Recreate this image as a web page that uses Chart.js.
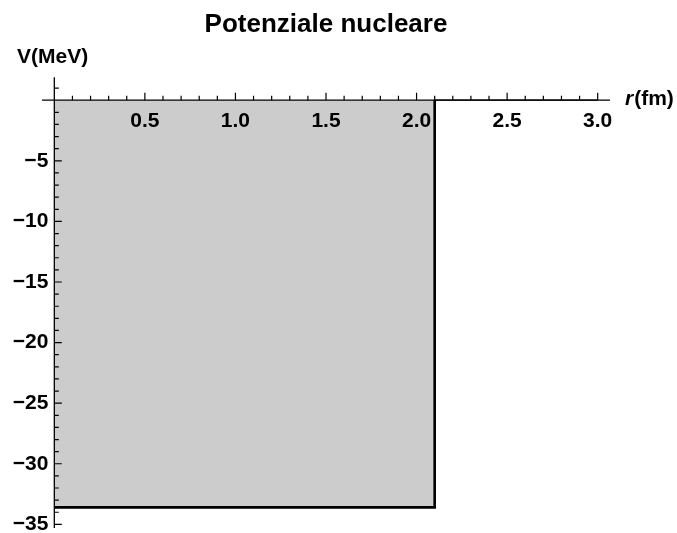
<!DOCTYPE html>
<html>
<head>
<meta charset="utf-8">
<script src="https://cdn.jsdelivr.net/npm/chart.js@4.4.0/dist/chart.umd.min.js"></script>
<style>
  body { margin: 0; background: #fff; }
</style>
</head>
<body>
<canvas id="myChart" width="677" height="533"></canvas>
<script>
// square well potential: r in fm, V in MeV
var radius = [0, 2.1, 2.1, 3.0];
var potential = [-33.6, -33.6, 0, 0];

var xTickStep = 0.5, xMinorStep = 0.1;
var yTickStep = 5, yMinorStep = 1;

var FONT = '"Liberation Sans", Arial, sans-serif';

function fmtX(v) { return v.toFixed(1); }
function fmtY(v) { return v < 0 ? '\u2212' + Math.abs(v) : String(v); }

// Mathematica-like axes crossing at the origin, ticks pointing inward
var axesPlugin = {
  id: 'mmaAxes',
  afterDatasetsDraw: function(chart) {
    var ctx = chart.ctx, xs = chart.scales.x, ys = chart.scales.y, area = chart.chartArea;
    var x0 = xs.getPixelForValue(0), y0 = ys.getPixelForValue(0);
    ctx.save();
    ctx.strokeStyle = '#000';
    ctx.lineWidth = 1.3;
    ctx.beginPath();
    ctx.moveTo(area.left, y0); ctx.lineTo(area.right, y0);
    ctx.moveTo(x0, area.top); ctx.lineTo(x0, area.bottom);
    ctx.stroke();

    ctx.lineWidth = 1.2;
    ctx.beginPath();
    // x minor ticks
    for (var n = 1; n * xMinorStep <= xs.max + 1e-9; n++) {
      if (n % Math.round(xTickStep / xMinorStep) === 0) continue;
      var px = xs.getPixelForValue(n * xMinorStep);
      ctx.moveTo(px, y0); ctx.lineTo(px, y0 - 4.5);
    }
    xs.ticks.forEach(function(t) {
      if (t.value === 0) return;
      var px = xs.getPixelForValue(t.value);
      ctx.moveTo(px, y0); ctx.lineTo(px, y0 - 7.5);
    });
    // y minor ticks
    for (var m = Math.ceil(ys.min); m <= ys.max; m += yMinorStep) {
      if (m % yTickStep === 0) continue;
      var py = ys.getPixelForValue(m);
      ctx.moveTo(x0, py); ctx.lineTo(x0 + 4.5, py);
    }
    ys.ticks.forEach(function(t) {
      if (t.value === 0) return;
      var py = ys.getPixelForValue(t.value);
      ctx.moveTo(x0, py); ctx.lineTo(x0 + 7.5, py);
    });
    ctx.stroke();

    // tick labels
    ctx.fillStyle = '#000';
    ctx.font = 'bold 21px ' + FONT;
    ctx.textBaseline = 'middle';
    ctx.textAlign = 'center';
    xs.ticks.forEach(function(t) {
      if (t.value === 0) return;
      ctx.fillText(fmtX(t.value), xs.getPixelForValue(t.value), y0 + 21);
    });
    ctx.textAlign = 'right';
    ys.ticks.forEach(function(t) {
      if (t.value === 0) return;
      ctx.fillText(fmtY(t.value), x0 - 6, ys.getPixelForValue(t.value));
    });

    // axis labels
    ctx.font = 'bold 21px ' + FONT;
    ctx.textAlign = 'left';
    ctx.fillText('V(MeV)', 17, 57);
    ctx.font = 'italic bold 21px ' + FONT;
    var rx = area.right + 15;
    ctx.fillText('r', rx, y0 - 1);
    var rw = ctx.measureText('r').width;
    ctx.font = 'bold 21px ' + FONT;
    ctx.fillText('(fm)', rx + rw + 1, y0 - 1);
    ctx.restore();
  }
};

var ctx = document.getElementById('myChart').getContext('2d');
var myChart = new Chart(ctx, {
  type: 'line',
  data: {
    datasets: [{
      data: radius.map(function(r, i) { return {x: r, y: potential[i]}; }),
      borderColor: '#000',
      borderWidth: 2.6,
      backgroundColor: '#cccccc',
      fill: 'origin',
      pointRadius: 0,
      tension: 0,
      segment: {
        // the stretch lying on the axis stays thin
        borderWidth: function(c) { return (c.p0.parsed.y === 0 && c.p1.parsed.y === 0) ? 1.3 : 2.6; }
      }
    }]
  },
  plugins: [axesPlugin],
  options: {
    responsive: false,
    animation: false,
    layout: { padding: { left: 42, right: 67, top: 0, bottom: 5 } },
    plugins: {
      legend: { display: false },
      tooltip: { enabled: false },
      title: {
        display: true,
        text: 'Potenziale nucleare',
        fullSize: false,
        color: '#000',
        font: { family: FONT, size: 26, weight: 'bold' },
        padding: { top: 9, bottom: 37 }
      }
    },
    scales: {
      x: {
        type: 'linear',
        display: false,
        min: -0.068,
        max: 3.068,
        ticks: { stepSize: xTickStep, includeBounds: false }
      },
      y: {
        type: 'linear',
        display: false,
        min: -35.3,
        max: 1.9,
        ticks: { stepSize: yTickStep, includeBounds: false }
      }
    }
  }
});
</script>
</body>
</html>
